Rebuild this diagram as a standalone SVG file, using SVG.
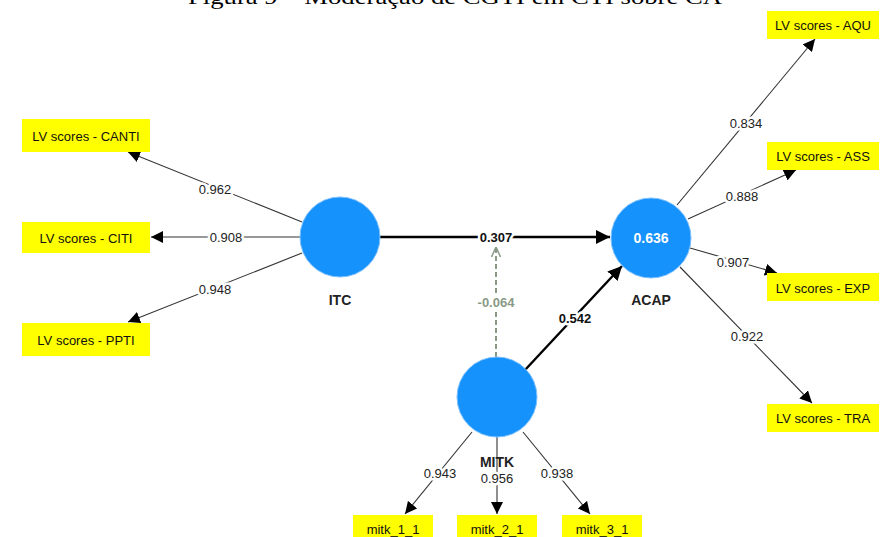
<svg xmlns="http://www.w3.org/2000/svg" width="883" height="537" viewBox="0 0 883 537">
<defs>
<style>
.title{font-family:"Liberation Serif","Times New Roman",serif;font-size:21px;fill:#000}
.box{fill:#FFFF00}
.btxt{font-family:"Liberation Sans",Arial,sans-serif;font-size:13px;fill:#111;text-anchor:middle;dominant-baseline:central}
.lv{fill:#1592FB;stroke:#7DC0FF;stroke-width:1}
.lvname{font-family:"Liberation Sans",Arial,sans-serif;font-size:14px;font-weight:bold;fill:#222;text-anchor:middle}
.r2{font-family:"Liberation Sans",Arial,sans-serif;font-size:14px;font-weight:bold;fill:#fff;text-anchor:middle;dominant-baseline:central}
.ld{stroke:#333;stroke-width:1.1;fill:none;marker-end:url(#ah)}
.path{stroke:#000;stroke-width:2.4;fill:none;marker-end:url(#ahb)}
.mod{stroke:#8A9A86;stroke-width:2;stroke-dasharray:5,3;fill:none;marker-end:url(#aho)}
.lab{font-family:"Liberation Sans",Arial,sans-serif;font-size:13px;fill:#222;text-anchor:middle;dominant-baseline:central;stroke:#fff;stroke-width:5;paint-order:stroke;stroke-linejoin:round}
.labb{font-family:"Liberation Sans",Arial,sans-serif;font-size:13px;font-weight:bold;fill:#111;text-anchor:middle;dominant-baseline:central;stroke:#fff;stroke-width:5;paint-order:stroke;stroke-linejoin:round}
.labm{font-family:"Liberation Sans",Arial,sans-serif;font-size:13px;font-weight:bold;fill:#8A9A86;text-anchor:middle;dominant-baseline:central;stroke:#fff;stroke-width:5;paint-order:stroke;stroke-linejoin:round}
</style>
<marker id="ah" viewBox="0 0 10 10" refX="10" refY="5" markerWidth="12" markerHeight="12" markerUnits="userSpaceOnUse" orient="auto">
<path d="M0,0 L10,5 L0,10 z" fill="#000"/>
</marker>
<marker id="ahb" viewBox="0 0 10 10" refX="10" refY="5" markerWidth="14" markerHeight="14" markerUnits="userSpaceOnUse" orient="auto">
<path d="M0,0 L10,5 L0,10 z" fill="#000"/>
</marker>
<marker id="aho" viewBox="0 0 10 10" refX="10" refY="5" markerWidth="10" markerHeight="10" markerUnits="userSpaceOnUse" orient="auto">
<path d="M0,0.5 L10,5 L0,9.5" fill="none" stroke="#8A9A86" stroke-width="1.5"/>
</marker>
</defs>
<rect width="883" height="537" fill="#fff"/>
<text class="title" x="188" y="4" textLength="534" lengthAdjust="spacingAndGlyphs">Figura 9 – Moderação de CGTI em CTI sobre CA</text>

<g id="connectors">
<line class="ld" x1="302" y1="222" x2="128" y2="152"/>
<line class="ld" x1="300" y1="237" x2="151" y2="237"/>
<line class="ld" x1="302" y1="253" x2="128" y2="322"/>
<line class="path" x1="380" y1="237" x2="610" y2="237"/>
<line class="path" x1="525" y1="370" x2="622" y2="266"/>
<line class="mod" x1="496" y1="357" x2="496" y2="247"/>
<line class="ld" x1="677" y1="205" x2="815" y2="39"/>
<line class="ld" x1="688" y1="219" x2="796" y2="170"/>
<line class="ld" x1="690" y1="248" x2="777" y2="273"/>
<line class="ld" x1="680" y1="267" x2="812" y2="403"/>
<line class="ld" x1="472" y1="432" x2="405" y2="514"/>
<line class="ld" x1="497" y1="437" x2="497" y2="514"/>
<line class="ld" x1="523" y1="432" x2="590" y2="514"/>
<text class="lab" x="215" y="189">0.962</text>
<text class="lab" x="226" y="237">0.908</text>
<text class="lab" x="215" y="289">0.948</text>
<text class="labb" x="496" y="237">0.307</text>
<text class="labm" x="496" y="302">-0.064</text>
<text class="labb" x="575" y="318">0.542</text>
<text class="lab" x="746" y="123">0.834</text>
<text class="lab" x="742" y="196">0.888</text>
<text class="lab" x="733" y="262">0.907</text>
<text class="lab" x="747" y="336">0.922</text>
<text class="lab" x="440" y="473">0.943</text>
<text class="lab" x="497" y="478">0.956</text>
<text class="lab" x="557" y="473">0.938</text>
</g>

<g id="ITC">
<circle class="lv" cx="340" cy="237" r="40"/>
<text class="lvname" x="340" y="305">ITC</text>
</g>
<g id="ACAP">
<circle class="lv" cx="651" cy="238" r="40"/>
<text class="r2" x="651" y="238">0.636</text>
<text class="lvname" x="651" y="305">ACAP</text>
</g>
<g id="MITK">
<circle class="lv" cx="497" cy="397" r="40"/>
<text class="lvname" x="497" y="467">MITK</text>
</g>

<g id="CANTI"><rect class="box" x="22" y="119" width="128" height="33"/><text class="btxt" x="86" y="136">LV scores - CANTI</text></g>
<g id="CITI"><rect class="box" x="22" y="222" width="128" height="31"/><text class="btxt" x="86" y="238">LV scores - CITI</text></g>
<g id="PPTI"><rect class="box" x="22" y="323" width="128" height="33"/><text class="btxt" x="86" y="340">LV scores - PPTI</text></g>
<g id="AQU"><rect class="box" x="767" y="11" width="112" height="28"/><text class="btxt" x="823" y="25">LV scores - AQU</text></g>
<g id="ASS"><rect class="box" x="767" y="142" width="112" height="28"/><text class="btxt" x="823" y="156">LV scores - ASS</text></g>
<g id="EXP"><rect class="box" x="767" y="273" width="112" height="28"/><text class="btxt" x="823" y="288">LV scores - EXP</text></g>
<g id="TRA"><rect class="box" x="767" y="404" width="112" height="28"/><text class="btxt" x="823" y="418">LV scores - TRA</text></g>
<g id="mitk_1_1"><rect class="box" x="353" y="515" width="80" height="30"/><text class="btxt" x="393" y="529">mitk_1_1</text></g>
<g id="mitk_2_1"><rect class="box" x="457" y="515" width="80" height="30"/><text class="btxt" x="497" y="529">mitk_2_1</text></g>
<g id="mitk_3_1"><rect class="box" x="562" y="515" width="80" height="30"/><text class="btxt" x="602" y="529">mitk_3_1</text></g>
</svg>
